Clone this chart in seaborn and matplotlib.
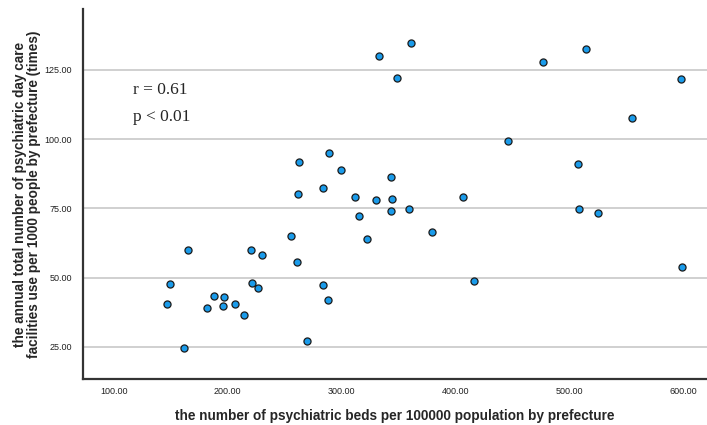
import pandas as pd
import matplotlib.pyplot as plt
import seaborn as sns

# psychiatric beds per 100000 population
beds = [333.1, 361.0, 348.7, 477.0, 514.8, 598.2, 555.5, 446.0, 288.6, 262.8,
        508.0, 299.8, 343.1, 283.9, 261.7, 312.0, 330.5, 344.0, 407.0, 508.3,
        359.2, 343.7, 525.6, 315.5, 379.2, 255.5, 322.6, 165.0, 220.1, 230.0,
        260.5, 599.4, 416.3, 221.3, 149.5, 283.7, 226.8, 187.9, 196.9, 287.8,
        146.8, 206.6, 195.5, 182.0, 214.2, 269.9, 161.8]
# day care use per 1000 people (times)
daycare = [129.9, 134.8, 121.9, 127.8, 132.7, 121.6, 107.6, 99.2, 94.9, 91.9,
           91.0, 89.0, 86.2, 82.5, 80.2, 79.1, 78.1, 78.4, 79.1, 74.9,
           74.8, 74.0, 73.4, 72.4, 66.5, 64.9, 63.9, 60.1, 60.1, 58.1,
           55.5, 53.8, 48.9, 48.2, 47.6, 47.4, 46.2, 43.5, 42.9, 41.8,
           40.6, 40.5, 39.7, 39.0, 36.7, 27.3, 24.7]

x_ticks = [100, 200, 300, 400, 500, 600]
y_ticks = [25, 50, 75, 100, 125]

df = pd.DataFrame({"beds": beds, "daycare": daycare})

sns.set_style("white")
plt.rcParams['font.family'] = ['Liberation Sans', 'DejaVu Sans']

fig = plt.figure(figsize=(7.07, 4.25), dpi=100)
ax = fig.add_axes([0.1174, 0.108, 0.8826, 0.871])

for yv in y_ticks:
    ax.axhline(yv, color="#c8c8c8", lw=1.2, zorder=0)

sns.scatterplot(data=df, x="beds", y="daycare", ax=ax, s=26,
                color="#1a9bea", edgecolor="#1b1b1b", linewidth=0.9, zorder=3)

ax.set_xlim(72.8, 621)
ax.set_ylim(13.4, 147)
ax.set_xticks(x_ticks)
ax.set_yticks(y_ticks)
ax.set_xticklabels([f"{v:.2f}" for v in x_ticks])
ax.set_yticklabels([f"{v:.2f}" for v in y_ticks])
ax.tick_params(axis="both", length=0, labelsize=6.5, colors="#222222")
ax.tick_params(axis="x", pad=6)
ax.tick_params(axis="y", pad=8)

for side in ["top", "right"]:
    ax.spines[side].set_visible(False)
for side in ["left", "bottom"]:
    ax.spines[side].set_color("#333333")
    ax.spines[side].set_linewidth(1.6)

ax.set_xlabel("the number of psychiatric beds per 100000 population by prefecture",
              fontsize=9.8, fontweight="bold", labelpad=9)
ax.set_ylabel("the annual total number of psychiatric day care\n"
              "facilities use per 1000 people by prefecture (times)",
              fontsize=9.8, fontweight="bold", labelpad=2.5, linespacing=1.0)

fig.text(0.188, 0.788, "r = 0.61", ha="left", va="center",
         fontsize=12.5, family="Liberation Serif")
fig.text(0.188, 0.724, "p < 0.01", ha="left", va="center",
         fontsize=12.5, family="Liberation Serif")

ax.grid(False)
fig.savefig("out.png", dpi=100)
